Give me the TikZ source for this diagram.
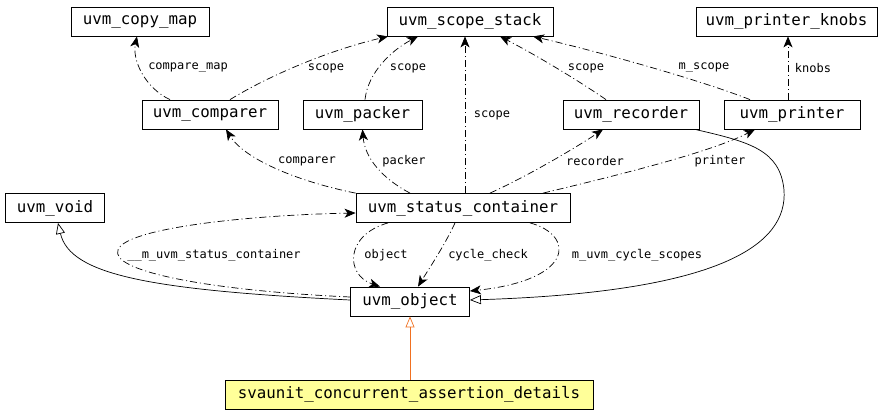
\documentclass[tikz,border=0pt]{standalone}
\usepackage{fontspec}
\setmonofont{DejaVu Sans Mono}
\usetikzlibrary{arrows.meta}
\definecolor{noteyellow}{HTML}{FFFF99}
\definecolor{instorange}{HTML}{F07020}
\begin{document}
\begin{tikzpicture}[
    x=1pt, y=-1pt,
    every node/.style={font=\fontsize{15.8}{18}\selectfont\ttfamily},
    cls/.style={draw, line width=0.8pt, inner sep=0pt, minimum height=29},
    lbl/.style={font=\fontsize{12}{14}\selectfont\ttfamily, inner sep=1pt},
    member/.style={-{Stealth[length=11pt, width=9pt, inset=3pt]}, line width=0.7pt,
                   dash pattern=on 7pt off 3pt on 1pt off 3pt},
    derived/.style={-{Triangle[open, length=11pt, width=9pt]}, line width=0.7pt},
  ]
    \useasboundingbox (0,0) rectangle (885,416);

    \node[cls, minimum width=138] (copy_map) at (140,21.5) {uvm\_copy\_map};
    \node[cls, minimum width=166] (scope_stack) at (470,21.5) {uvm\_scope\_stack};
    \node[cls, minimum width=181] (printer_knobs) at (786.5,21.5) {uvm\_printer\_knobs};
    \node[cls, minimum width=136] (comparer) at (210,114.5) {uvm\_comparer};
    \node[cls, minimum width=119] (packer) at (362.5,114.5) {uvm\_packer};
    \node[cls, minimum width=136] (recorder) at (631,114.5) {uvm\_recorder};
    \node[cls, minimum width=136] (printer) at (792,114.5) {uvm\_printer};
    \node[cls, minimum width=99] (void) at (55,208) {uvm\_void};
    \node[cls, minimum width=214] (status) at (463,208) {uvm\_status\_container};
    \node[cls, minimum width=119] (object) at (410,301.5) {uvm\_object};
    \node[cls, minimum width=368, fill=noteyellow] (svaunit) at (409,394.5)
      {svaunit\_concurrent\_assertion\_details};

    \node[lbl] (l_compare_map) at (188,68) {compare\_map};
    \node[lbl] (l_scope_a) at (326,68) {scope};
    \node[lbl] (l_scope_b) at (408,68) {scope};
    \node[lbl] (l_scope_c) at (492,115) {scope};
    \node[lbl] (l_scope_d) at (586,68) {scope};
    \node[lbl] (l_m_scope) at (704,68) {m\_scope};
    \node[lbl] (l_knobs) at (813,68) {knobs};
    \node[lbl] (l_comparer) at (307,161) {comparer};
    \node[lbl] (l_packer) at (404,161) {packer};
    \node[lbl] (l_recorder) at (595,161) {recorder};
    \node[lbl] (l_printer) at (720,161) {printer};
    \node[lbl] (l_status) at (214,255) {\_\_m\_uvm\_status\_container};
    \node[lbl] (l_object) at (386,255) {object};
    \node[lbl] (l_cycle_check) at (488,255) {cycle\_check};
    \node[lbl] (l_cycle_scopes) at (637,255) {m\_uvm\_cycle\_scopes};

    \draw[member] ([xshift=-40]comparer.north) .. controls (145,88) and (132,60) .. ([xshift=-3]copy_map.south);
    \draw[member] ([xshift=20]comparer.north) .. controls (270,75) and (330,50) .. ([xshift=-82]scope_stack.south);
    \draw[member] ([xshift=2.5]packer.north) .. controls (368,72) and (392,50) .. ([xshift=-52]scope_stack.south);
    \draw[member] ([xshift=2]status.north) -- ([xshift=-5]scope_stack.south);
    \draw[member] ([xshift=-25]recorder.north) .. controls (570,75) and (530,52) .. ([xshift=30]scope_stack.south);
    \draw[member] ([xshift=-42]printer.north) .. controls (700,80) and (600,52) .. ([xshift=63]scope_stack.south);
    \draw[member] ([xshift=-4]printer.north) -- ([xshift=1.5]printer_knobs.south);
    \draw[member] (status.north west) .. controls (300,182) and (245,160) .. ([xshift=16]comparer.south);
    \draw[member] ([xshift=-53]status.north) .. controls (385,180) and (365,160) .. (packer.south);
    \draw[member] ([xshift=27]status.north) .. controls (530,175) and (580,145) .. ([xshift=-28]recorder.south);
    \draw[member] ([xshift=80]status.north) .. controls (640,170) and (715,150) .. ([xshift=-37]printer.south);
    \draw[member] ([xshift=-75]status.south) .. controls (345,235) and (345,275) .. ([xshift=-30]object.north);
    \draw[member] ([xshift=-8]status.south) .. controls (445,245) and (425,275) .. ([xshift=8]object.north);
    \draw[member] ([xshift=67]status.south) .. controls (575,235) and (575,280) .. ([yshift=10.5]object.east);
    \draw[member] ([yshift=4.5]object.west) .. controls (200,290) and (110,270) .. (118,250)
      .. controls (125,228) and (250,215) .. ([yshift=-5]status.west);
    \draw[derived] ([xshift=64]recorder.south) .. controls (750,142) and (780,150) .. (784,190)
      .. controls (788,245) and (720,292) .. ([yshift=1.5]object.east);
    \draw[derived] ([yshift=1.5]object.west) .. controls (150,290) and (70,275) .. ([xshift=3]void.south);
    \draw[derived, draw=instorange] ([xshift=1]svaunit.north) -- (object.south);
  \end{tikzpicture}
\end{document}
